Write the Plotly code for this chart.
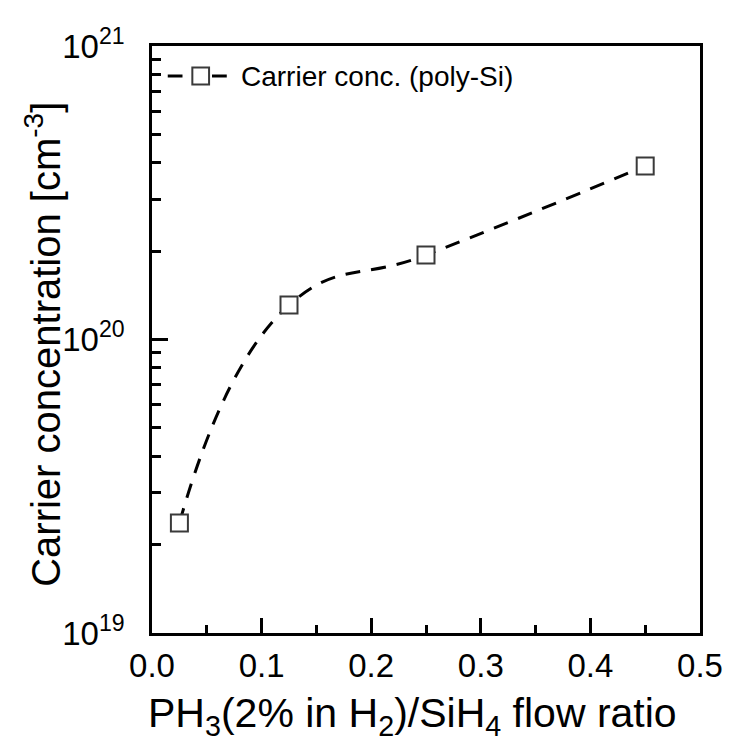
import plotly.graph_objects as go

# PH3/SiH4 flow ratio and measured carrier concentration (cm^-3)
flow_ratio = [0.025, 0.125, 0.25, 0.45]
carrier_conc = [2.37e19, 1.31e20, 1.94e20, 3.9e20]
series_name = "Carrier conc. (poly-Si)"

y_major = [1e19, 1e20, 1e21]
y_major_text = ["10<sup>19</sup>", "10<sup>20</sup>", "10<sup>21</sup>"]
y_minor = [float(m) * 10.0 ** e for e in (19, 20) for m in range(2, 10)]
x_major = [0.0, 0.1, 0.2, 0.3, 0.4, 0.5]
x_major_text = ["0.0", "0.1", "0.2", "0.3", "0.4", "0.5"]

FONT = "Liberation Sans, Arial, sans-serif"
W, H = 735, 745
ML, MR, MT, MB = 152, 26, 46, 112
PW, PH = W - ML - MR, H - MT - MB


def px_x(px):
    """Page pixel column -> paper fraction of the plot area."""
    return (px - ML) / PW


def px_y(py):
    """Page pixel row -> paper fraction of the plot area."""
    return (H - MB - py) / PH


LINE = dict(color="black", width=3, dash="15px,11px")
EDGE = "#3a3a3a"

fig = go.Figure()
fig.add_trace(go.Scatter(
    x=flow_ratio,
    y=carrier_conc,
    mode="lines+markers",
    name=series_name,
    showlegend=False,
    line=dict(**LINE, shape="spline", smoothing=1.3),
    marker=dict(symbol="square", size=17, color="white", line=dict(width=2, color=EDGE)),
))

axis_common = dict(
    showline=True, linecolor="black", linewidth=2.5, mirror=True,
    showgrid=False, zeroline=False,
    ticks="inside", tickcolor="black", tickwidth=2.5,
)

fig.update_xaxes(
    range=[0, 0.5],
    tickvals=x_major, ticktext=x_major_text, ticklen=15,
    tickfont=dict(family=FONT, size=33, color="black"),
    minor=dict(dtick=0.05, tick0=0, ticks="inside", ticklen=8, tickwidth=2.5, tickcolor="black"),
    ticklabelstandoff=2,
    **axis_common,
)
fig.update_yaxes(
    type="log", range=[19, 21],
    tickvals=y_major, ticktext=y_major_text, ticklen=16,
    tickfont=dict(family=FONT, size=33, color="black"),
    minor=dict(tickvals=y_minor, ticks="inside", ticklen=9, tickwidth=2.5, tickcolor="black"),
    ticklabelstandoff=18,
    **axis_common,
)

# axis titles
fig.add_annotation(
    text="PH<sub>3</sub>(2% in H<sub>2</sub>)/SiH<sub>4</sub> flow ratio",
    xref="paper", yref="paper", x=px_x(417), y=px_y(716),
    xanchor="center", yanchor="middle", showarrow=False,
    font=dict(family=FONT, size=41, color="black"),
)
fig.add_annotation(
    text="Carrier concentration [cm<sup>-3</sup>]",
    xref="paper", yref="paper", x=px_x(41), y=px_y(344),
    xanchor="center", yanchor="middle", textangle=-90, showarrow=False,
    font=dict(family=FONT, size=40, color="black"),
)

# legend entry: dash - square - dash, then the series name
leg_y = 76
for a, b in ((168, 183), (213, 228)):
    fig.add_shape(type="line", xref="paper", yref="paper",
                  x0=px_x(a), x1=px_x(b), y0=px_y(leg_y), y1=px_y(leg_y),
                  line=dict(color="black", width=3))
fig.add_shape(type="rect", xref="paper", yref="paper",
              x0=px_x(193), x1=px_x(210), y0=px_y(leg_y + 8.5), y1=px_y(leg_y - 8.5),
              fillcolor="white", line=dict(color=EDGE, width=2))
fig.add_annotation(
    text=series_name, xref="paper", yref="paper",
    x=px_x(240), y=px_y(leg_y), xanchor="left", yanchor="middle", showarrow=False,
    font=dict(family=FONT, size=28, color="black"),
)

fig.update_layout(
    width=W, height=H,
    margin=dict(l=ML, r=MR, t=MT, b=MB),
    paper_bgcolor="white", plot_bgcolor="white",
    font=dict(family=FONT, color="black"),
    showlegend=False,
)

fig.write_html("out.html")
